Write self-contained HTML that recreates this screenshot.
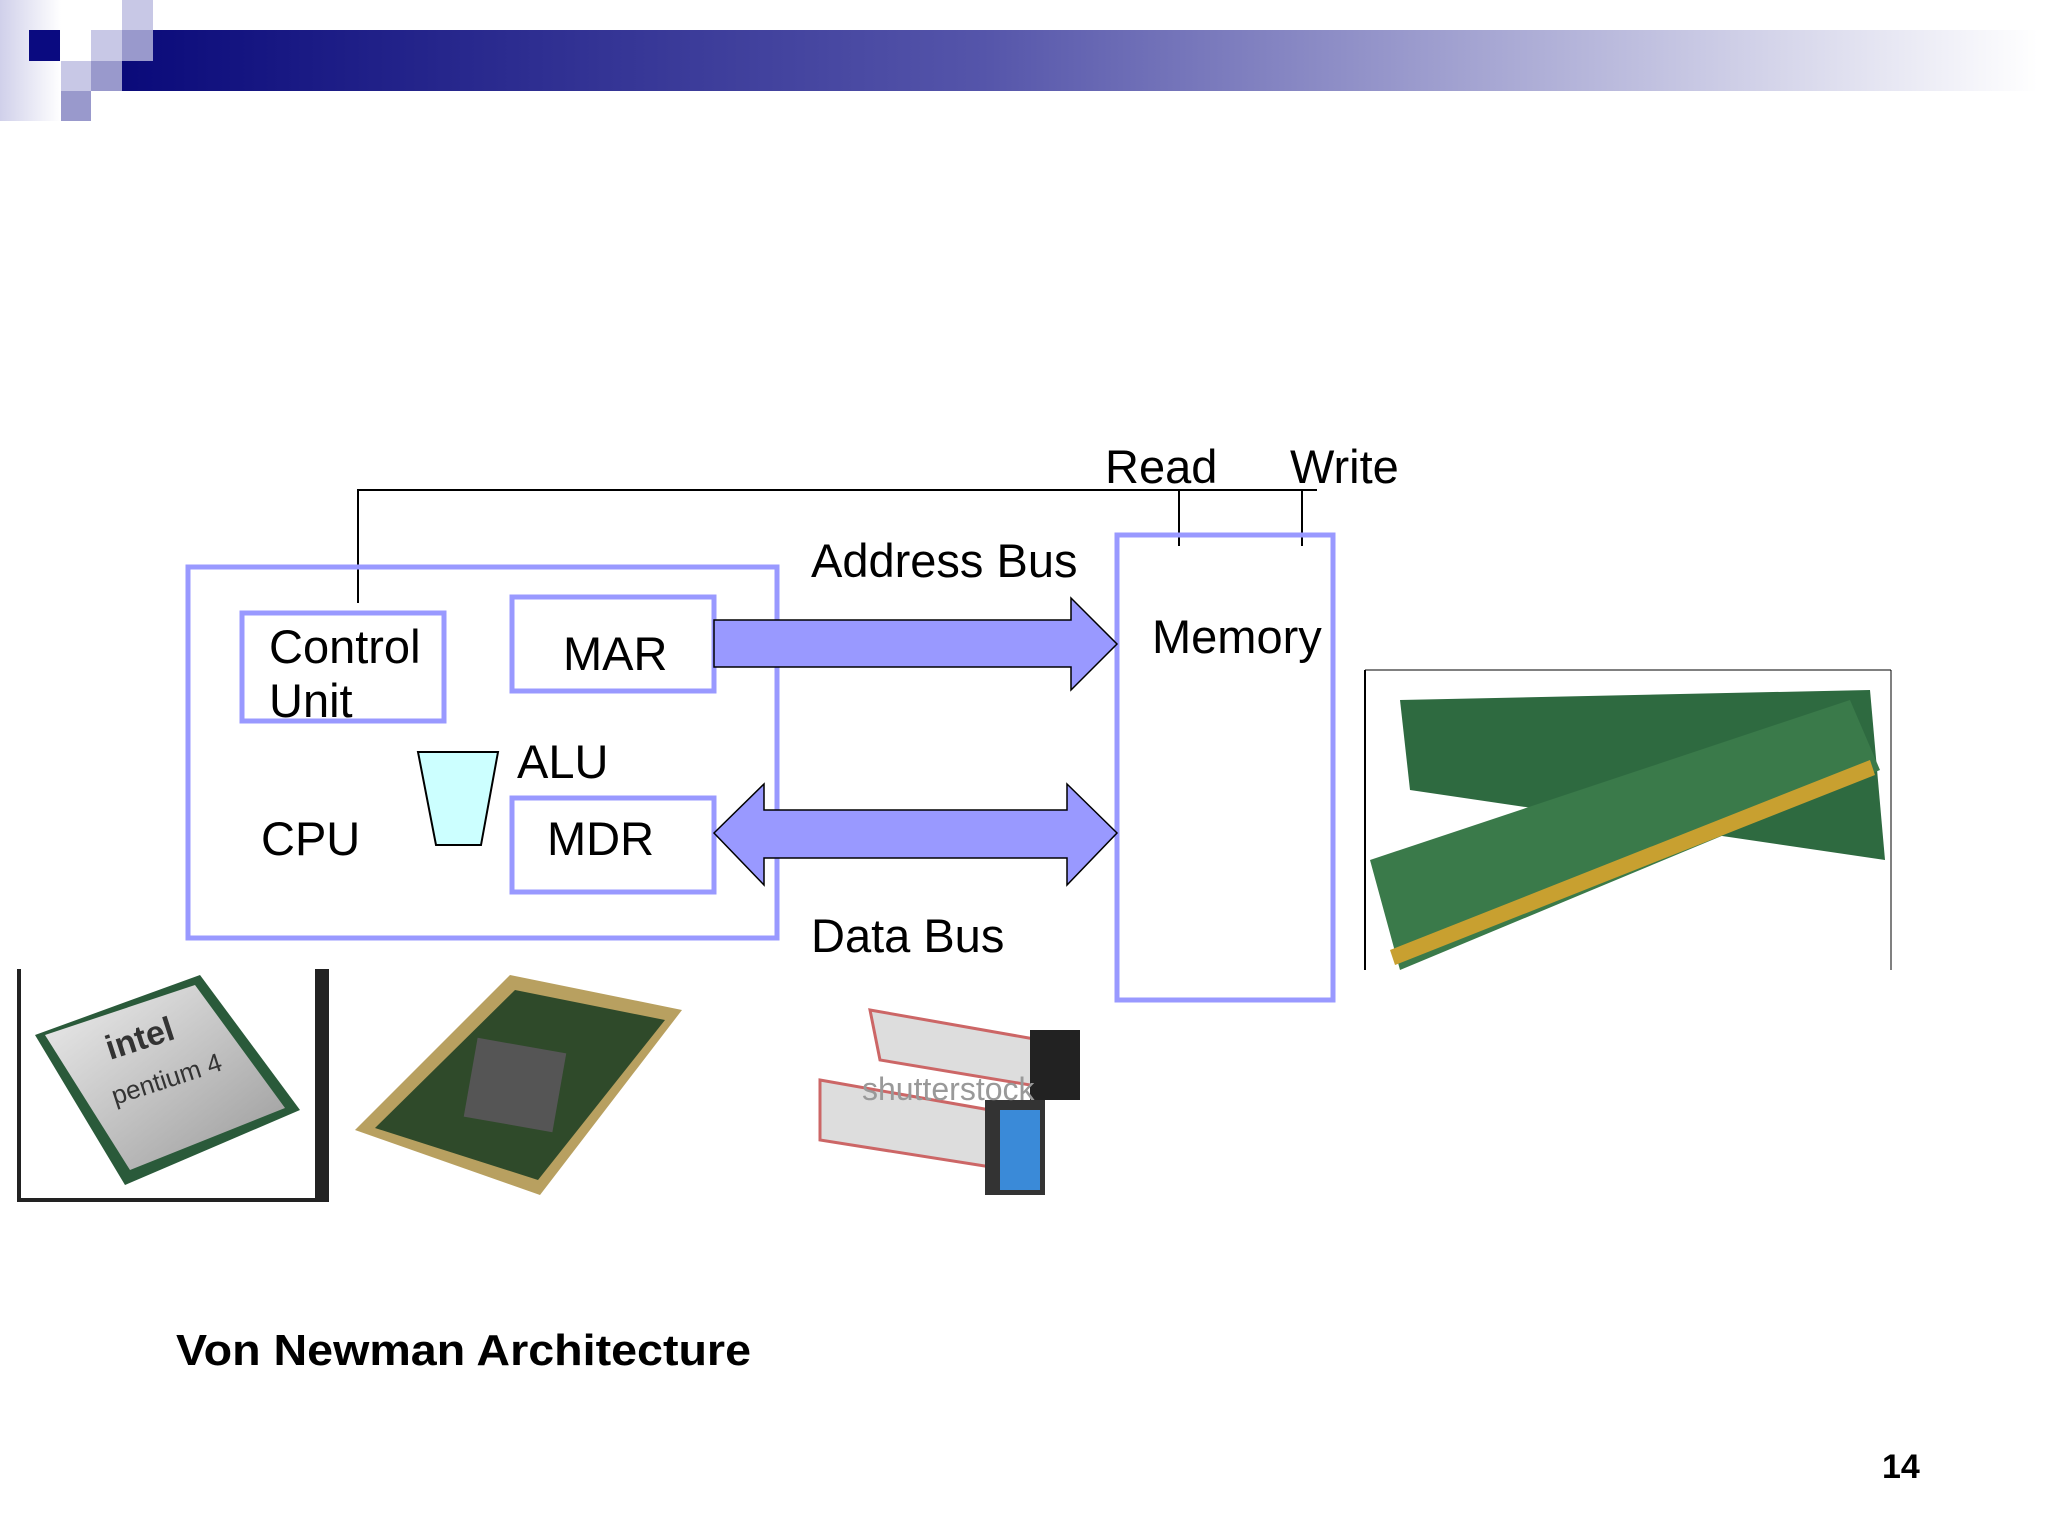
<!DOCTYPE html>
<html><head><meta charset="utf-8"><style>
html,body{margin:0;padding:0;background:#fff}
svg{display:block}
text{font-family:"Liberation Sans",Arial,sans-serif}
</style></head><body>
<svg width="2048" height="1536" viewBox="0 0 2048 1536" xmlns="http://www.w3.org/2000/svg">
<defs>
<linearGradient id="hb" x1="0" x2="1" y1="0" y2="0">
<stop offset="0" stop-color="#0a0a7a"/><stop offset="0.45" stop-color="#5555aa"/><stop offset="1" stop-color="#ffffff"/>
</linearGradient>
<linearGradient id="fade" x1="0" x2="1"><stop offset="0" stop-color="#d0d0ea"/><stop offset="1" stop-color="#ffffff"/></linearGradient>
<linearGradient id="chip" x1="0" y1="0" x2="1" y2="1"><stop offset="0" stop-color="#eee"/><stop offset="1" stop-color="#999"/></linearGradient>
</defs>
<!-- header -->
<rect x="122" y="30" width="1916" height="61" fill="url(#hb)"/>
<rect x="0" y="0" width="61" height="121" fill="url(#fade)"/>
<rect x="29" y="30" width="31" height="31" fill="#0a0a80"/>
<rect x="61" y="61" width="30" height="30" fill="#c8c8e6"/>
<rect x="61" y="91" width="30" height="30" fill="#9999cc"/>
<rect x="91" y="30" width="31" height="31" fill="#c8c8e6"/>
<rect x="91" y="61" width="31" height="30" fill="#9999cc"/>
<rect x="122" y="0" width="31" height="30" fill="#c8c8e6"/>
<rect x="122" y="30" width="31" height="31" fill="#9999cc"/>

<!-- control lines -->
<polyline points="358,603 358,490 1317,490" fill="none" stroke="#000" stroke-width="2"/>
<line x1="1179" y1="490" x2="1179" y2="546" stroke="#000" stroke-width="2"/>
<line x1="1302" y1="490" x2="1302" y2="546" stroke="#000" stroke-width="2"/>

<!-- boxes -->
<g fill="none" stroke="#9999ff" stroke-width="5">
<rect x="188" y="567" width="589" height="371"/>
<rect x="242" y="613" width="202" height="108"/>
<rect x="512" y="597" width="202" height="94"/>
<rect x="512" y="798" width="202" height="94"/>
<rect x="1117" y="535" width="216" height="465"/>
</g>
<!-- arrows -->
<polygon points="714,620 1071,620 1071,598 1117,644 1071,690 1071,667 714,667" fill="#9999ff" stroke="#000" stroke-width="1.5"/>
<polygon points="714,833 764,784 764,810 1067,810 1067,784 1117,833 1067,885 1067,858 764,858 764,885" fill="#9999ff" stroke="#000" stroke-width="1.5"/>
<!-- ALU -->
<polygon points="418,752 498,752 481,845 436,845" fill="#ccffff" stroke="#000" stroke-width="2"/>

<g font-size="47" fill="#000">
<text x="269" y="663">Control</text>
<text x="269" y="717">Unit</text>
<text x="563" y="670">MAR</text>
<text x="517" y="778">ALU</text>
<text x="261" y="855">CPU</text>
<text x="547" y="855">MDR</text>
<text x="1152" y="653">Memory</text>
<text x="811" y="577">Address Bus</text>
<text x="811" y="952">Data Bus</text>
<text x="1105" y="483">Read</text>
<text x="1290" y="483">Write</text>
</g>
<text x="176" y="1365" font-size="44" font-weight="bold" textLength="575" lengthAdjust="spacingAndGlyphs">Von Newman Architecture</text>
<text x="1882" y="1478" font-size="34" font-weight="bold">14</text>

<!-- pentium image -->
<path d="M19,969 V1200 H327 V969" fill="none" stroke="#222" stroke-width="4"/>
<rect x="315" y="969" width="12" height="233" fill="#222"/>
<polygon points="35,1035 200,975 300,1110 125,1185" fill="#2a5a3a"/>
<polygon points="45,1035 195,985 285,1108 130,1170" fill="url(#chip)"/>
<text x="110" y="1060" font-size="34" font-weight="bold" fill="#333" transform="rotate(-18 110 1060)">intel</text>
<text x="115" y="1105" font-size="26" fill="#333" transform="rotate(-18 115 1105)">pentium 4</text>
<!-- cpu bottom -->
<polygon points="355,1130 510,975 682,1010 540,1195" fill="#b8a060"/>
<polygon points="375,1128 515,990 665,1020 538,1180" fill="#2f4a2a"/>
<rect x="470" y="1045" width="90" height="80" fill="#555" transform="rotate(10 515 1085)"/>
<!-- cable -->
<path d="M870,1010 L1040,1040 L1060,1090 L880,1060 Z" fill="#ddd" stroke="#c66" stroke-width="3"/>
<path d="M820,1080 L990,1110 L1010,1170 L820,1140 Z" fill="#ddd" stroke="#c66" stroke-width="3"/>
<rect x="1030" y="1030" width="50" height="70" fill="#222"/>
<rect x="985" y="1100" width="60" height="95" fill="#333"/>
<rect x="1000" y="1110" width="40" height="80" fill="#3a8ad8"/>
<text x="862" y="1100" font-size="32" fill="#999">shutterstock</text>
<!-- RAM image -->
<line x1="1365" y1="670" x2="1891" y2="670" stroke="#000" stroke-width="1"/>
<line x1="1365" y1="670" x2="1365" y2="970" stroke="#000" stroke-width="2"/>
<line x1="1891" y1="670" x2="1891" y2="970" stroke="#000" stroke-width="1"/>
<polygon points="1400,700 1870,690 1885,860 1410,790" fill="#2e6a40"/>
<polygon points="1370,860 1850,700 1880,770 1400,970" fill="#3a7a4a"/>
<polygon points="1390,950 1870,760 1875,775 1395,965" fill="#c8a030"/>
</svg>
</body></html>
